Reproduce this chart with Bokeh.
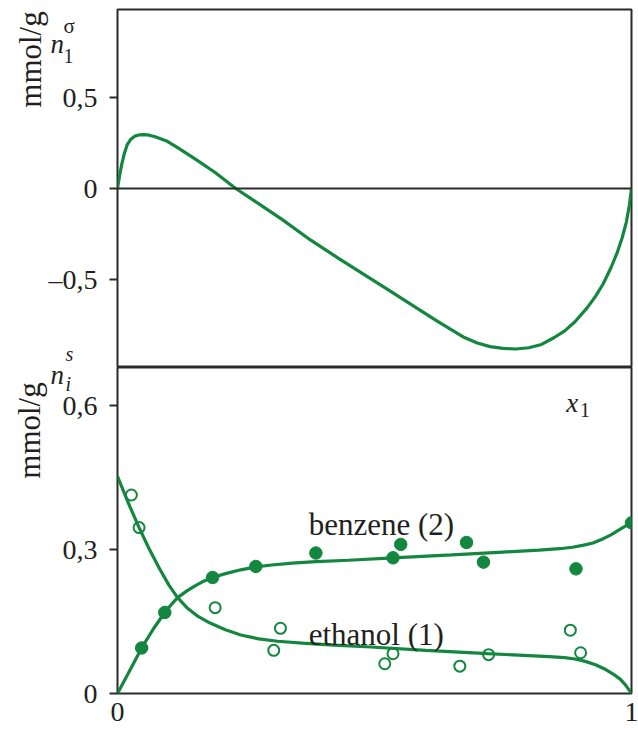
from math import pi
from bokeh.plotting import figure
from bokeh.models import Range1d, FixedTicker, Label, Span
from bokeh.layouts import column
from bokeh.embed import file_html
from bokeh.resources import INLINE

# ---------------- data ----------------
# top panel: excess adsorption n1^sigma vs x1
top_x = [0, 0.004, 0.008, 0.013, 0.019, 0.026, 0.034, 0.043, 0.052, 0.062, 0.073, 0.085,
         0.097, 0.12, 0.15, 0.19, 0.23, 0.27, 0.32, 0.376, 0.43, 0.48, 0.53, 0.58, 0.622,
         0.65, 0.675, 0.70, 0.725, 0.75, 0.775, 0.80, 0.825, 0.849, 0.87, 0.89, 0.914,
         0.93, 0.945, 0.96, 0.972, 0.982, 0.99, 0.996, 1.0]
top_y = [0, 0.07, 0.13, 0.19, 0.242, 0.272, 0.289, 0.296, 0.297, 0.294, 0.285, 0.273,
         0.260, 0.220, 0.165, 0.088, 0.0, -0.075, -0.17, -0.285, -0.385, -0.475, -0.565,
         -0.655, -0.731, -0.780, -0.822, -0.852, -0.872, -0.882, -0.885, -0.878, -0.860,
         -0.823, -0.785, -0.735, -0.657, -0.595, -0.525, -0.437, -0.355, -0.27, -0.185,
         -0.09, 0]

# bottom panel: benzene (2) curve
benz_x = [0, 0.02, 0.047, 0.07, 0.092, 0.105, 0.117, 0.135, 0.15, 0.165, 0.185, 0.21,
          0.24, 0.269, 0.30, 0.34, 0.386, 0.45, 0.536, 0.65, 0.75, 0.82, 0.86, 0.885,
          0.905, 0.925, 0.945, 0.96, 0.975, 0.988, 1.0]
benz_y = [0, 0.04, 0.095, 0.135, 0.169, 0.186, 0.200, 0.214, 0.224, 0.233, 0.242, 0.250,
          0.258, 0.264, 0.268, 0.272, 0.275, 0.278, 0.283, 0.289, 0.295, 0.299, 0.302,
          0.305, 0.309, 0.314, 0.323, 0.331, 0.341, 0.349, 0.356]

# bottom panel: ethanol (1) curve
eth_x = [0, 0.02, 0.042, 0.06, 0.08, 0.1, 0.117, 0.135, 0.155, 0.18, 0.21, 0.24, 0.275,
         0.311, 0.36, 0.42, 0.493, 0.6, 0.72, 0.80, 0.84, 0.87, 0.89, 0.91, 0.93, 0.95,
         0.965, 0.978, 0.989, 1.0]
eth_y = [0.453, 0.40, 0.346, 0.305, 0.264, 0.226, 0.200, 0.179, 0.162, 0.147, 0.133,
         0.122, 0.114, 0.109, 0.105, 0.101, 0.097, 0.090, 0.083, 0.079, 0.077, 0.075,
         0.072, 0.067, 0.060, 0.050, 0.040, 0.030, 0.017, 0]

# experimental points
benz_pts_x = [0.047, 0.092, 0.185, 0.269, 0.386, 0.536, 0.551, 0.679, 0.712, 0.892, 1.0]
benz_pts_y = [0.095, 0.169, 0.242, 0.265, 0.293, 0.283, 0.311, 0.315, 0.274, 0.260, 0.356]
eth_pts_x = [0.027, 0.042, 0.190, 0.304, 0.317, 0.520, 0.536, 0.666, 0.722, 0.881, 0.901]
eth_pts_y = [0.414, 0.346, 0.179, 0.090, 0.136, 0.062, 0.083, 0.057, 0.081, 0.132, 0.085]

# ticks
top_ticks = [-0.5, 0, 0.5]
top_tick_labels = ["\u20130,5", "0", "0,5"]
bot_ticks = [0, 0.3, 0.6]
bot_tick_labels = ["0", "0,3", "0,6"]
x_ticks = [0, 1]
x_tick_labels = ["0", "1"]

# ---------------- style ----------------
GREEN = "#13873f"
INK = "#231f20"
FRAME = "#2b2b2b"
SERIF = "Liberation Serif"
W = 638
H_TOP = 367
H_BOT = 376


def style_axis(ax, ticks, labels):
    ax.ticker = FixedTicker(ticks=ticks)
    ax.major_label_overrides = {t: l for t, l in zip(ticks, labels)}
    ax.axis_line_color = None
    ax.major_tick_in = 0
    ax.major_tick_out = 8
    ax.major_tick_line_color = FRAME
    ax.major_tick_line_width = 2
    ax.minor_tick_line_color = None
    ax.major_label_text_font = SERIF
    ax.major_label_text_font_size = "28px"
    ax.major_label_text_color = INK
    ax.major_label_standoff = 12


def base(height, border_top, border_bottom, x_axis):
    p = figure(width=W, height=height, output_backend="svg", toolbar_location=None,
               x_range=Range1d(0, 1), x_axis_location=x_axis,
               min_border_left=117, min_border_right=7, min_border_top=border_top,
               min_border_bottom=border_bottom)
    p.xgrid.grid_line_color = None
    p.ygrid.grid_line_color = None
    p.outline_line_color = FRAME
    p.outline_line_width = 2
    return p


def lab(p, x, y, text, size, style="normal", angle=0, align="left", baseline="alphabetic"):
    p.add_layout(Label(x=x, y=y, text=text, text_font=SERIF, text_font_size=size,
                       text_font_style=style, text_color=INK, angle=angle,
                       text_align=align, text_baseline=baseline))


# ---------------- top panel ----------------
top = base(H_TOP, 9, 0, None)
top.y_range = Range1d(-0.987, 0.987)
style_axis(top.yaxis[0], top_ticks, top_tick_labels)
top.add_layout(Span(location=0, dimension="width", line_color=FRAME, line_width=2))
top.line(top_x, top_y, line_color=GREEN, line_width=3.2)

# ---------------- bottom panel ----------------
bot = base(H_BOT, 0, 50, "below")
bot.y_range = Range1d(0, 0.68)
style_axis(bot.yaxis[0], bot_ticks, bot_tick_labels)
xa = bot.xaxis[0]
xa.ticker = FixedTicker(ticks=x_ticks)
xa.major_label_overrides = {t: l for t, l in zip(x_ticks, x_tick_labels)}
xa.axis_line_color = None
xa.major_tick_line_color = None
xa.major_tick_in = 0
xa.major_tick_out = 0
xa.minor_tick_line_color = None
xa.major_label_text_font = SERIF
xa.major_label_text_font_size = "28px"
xa.major_label_text_color = INK
xa.major_label_standoff = 9

bot.line(benz_x, benz_y, line_color=GREEN, line_width=3.2)
bot.line(eth_x, eth_y, line_color=GREEN, line_width=3.2)
bot.scatter(benz_pts_x, benz_pts_y, marker="circle", size=12.5,
            fill_color=GREEN, line_color=GREEN)
bot.scatter(eth_pts_x, eth_pts_y, marker="circle", size=11,
            fill_color=None, line_color=GREEN, line_width=2)

lab(bot, 0.372, 0.353, "benzene (2)", "31px")
lab(bot, 0.372, 0.124, "ethanol (1)", "31px")
lab(bot, 0.873, 0.606, "x", "27px", style="italic")
lab(bot, 0.900, 0.591, "1", "20px")

# ---------------- transparent overlay (own root, absolutely placed) for the texts
#                  left of the panels ----------------
ov = figure(width=W, height=H_TOP + H_BOT, output_backend="svg", toolbar_location=None,
            x_range=Range1d(0, W), y_range=Range1d(H_TOP + H_BOT, 0),
            x_axis_location=None, y_axis_location=None,
            min_border=0, min_border_left=0, min_border_right=0,
            min_border_top=0, min_border_bottom=0)
ov.xgrid.grid_line_color = None
ov.ygrid.grid_line_color = None
ov.outline_line_color = None
ov.background_fill_alpha = 0
ov.border_fill_alpha = 0
ov.styles = {"position": "absolute", "left": "0px", "top": "0px", "z-index": "5"}

lab(ov, 30, 59, "mmol/g", "31px", angle=pi / 2, align="center", baseline="middle")
lab(ov, 50, 43, "n", "27px", style="italic")
lab(ov, 63, 55, "1", "20px")
lab(ov, 63, 25, "\u03c3", "21px")

lab(ov, 29, 430, "mmol/g", "31px", angle=pi / 2, align="center", baseline="middle")
lab(ov, 65, 353, "s", "20px", style="italic")
lab(ov, 50, 374, "n", "27px", style="italic")
lab(ov, 65, 383, "i", "20px", style="italic")

layout = column(top, bot, spacing=0)
open("out.html", "w").write(file_html([layout, ov], INLINE))
